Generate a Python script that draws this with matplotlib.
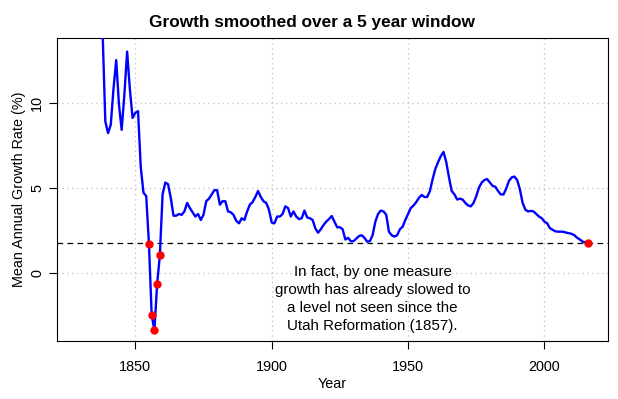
import matplotlib
matplotlib.use('Agg')
import matplotlib.pyplot as plt

plt.rcParams['font.family'] = ['Liberation Sans', 'DejaVu Sans']

# 5 year smoothed growth rate (%) by year
years = list(range(1837, 2017))
growth = [
    16.0, 14.2, 8.9, 8.2, 8.7, 10.8, 12.5, 9.9, 8.4, 10.5,   # 1837-1846
    13.0, 10.8, 9.1, 9.4, 9.5, 6.2, 4.7, 4.5, 1.69, -2.49,    # 1847-1856
    -3.39, -0.68, 1.02, 4.6, 5.3, 5.2, 4.4, 3.35, 3.35, 3.45,  # 1857-1866
    3.4, 3.6, 4.1, 3.8, 3.55, 3.3, 3.45, 3.1, 3.4, 4.2,       # 1867-1876
    4.35, 4.6, 4.85, 4.85, 4.0, 4.2, 4.2, 3.6, 3.55, 3.4,     # 1877-1886
    3.05, 2.9, 3.2, 3.1, 3.6, 4.0, 4.15, 4.45, 4.8, 4.45,     # 1887-1896
    4.2, 4.1, 3.7, 2.95, 2.9, 3.3, 3.3, 3.45, 3.9, 3.8,       # 1897-1906
    3.3, 3.6, 3.3, 3.15, 3.2, 3.65, 3.25, 3.2, 3.1, 2.6,      # 1907-1916
    2.35, 2.55, 2.8, 3.0, 3.15, 3.33, 3.0, 2.67, 2.67, 2.55,  # 1917-1926
    1.95, 2.05, 1.85, 1.85, 2.0, 2.15, 2.2, 2.05, 1.82, 1.85, # 1927-1936
    2.2, 3.0, 3.45, 3.65, 3.6, 3.4, 2.4, 2.2, 2.12, 2.2,      # 1937-1946
    2.55, 2.7, 3.1, 3.45, 3.8, 3.95, 4.15, 4.4, 4.57, 4.45,   # 1947-1956
    4.45, 4.8, 5.5, 6.1, 6.5, 6.85, 7.1, 6.5, 5.6, 4.8,       # 1957-1966
    4.6, 4.3, 4.35, 4.3, 4.1, 3.95, 3.9, 4.1, 4.5, 5.0,       # 1967-1976
    5.3, 5.45, 5.5, 5.3, 5.1, 5.05, 4.8, 4.6, 4.6, 4.95,      # 1977-1986
    5.4, 5.6, 5.65, 5.45, 4.9, 4.1, 3.7, 3.6, 3.63, 3.6,      # 1987-1996
    3.45, 3.3, 3.2, 3.0, 2.9, 2.62, 2.52, 2.43, 2.41, 2.41,   # 1997-2006
    2.4, 2.35, 2.32, 2.28, 2.2, 2.05, 1.95, 1.82, 1.78, 1.73, # 2007-2016
]

# highlighted years
dot_years = [1855, 1856, 1857, 1858, 1859, 2016]
dot_vals = [1.69, -2.49, -3.39, -0.68, 1.02, 1.73]
current = 1.73

note = ("In fact, by one measure\ngrowth has already slowed to\n"
        "a level not seen since the\nUtah Reformation (1857).")

fig = plt.figure(figsize=(6.18, 3.99), dpi=100)
ax = fig.add_axes([57.3 / 618, 1 - 341 / 399, (608 - 57.3) / 618, (341 - 38) / 399])

ax.set_xlim(1821.4, 2023.3)
ax.set_ylim(-4.02, 13.8)
ax.set_xticks([1850, 1900, 1950, 2000])
ax.set_yticks([0, 5, 10])

ax.grid(True, color='#c8c8c8', linestyle=(0, (1, 2.5)), linewidth=1.0)
ax.set_axisbelow(True)

ax.plot(years, growth, color='blue', lw=1.7, zorder=3)
ax.axhline(current, color='black', lw=0.9, linestyle=(0, (4.5, 3.5)), zorder=2)
ax.plot(dot_years, dot_vals, 'o', color='red', ms=5, zorder=4, clip_on=False)

ax.text(1937, -1.56, note, ha='center', va='center', fontsize=10.9, linespacing=1.36)

for s in ax.spines.values():
    s.set_linewidth(0.8)
ax.tick_params(length=5.5, width=0.8, labelsize=10.4)
ax.tick_params(axis='x', pad=8)
ax.tick_params(axis='y', pad=4)
for lab in ax.get_yticklabels():
    lab.set_rotation(90)
    lab.set_va('center')

ax.set_xlabel('Year', fontsize=10.4, labelpad=2.5)
ax.set_ylabel('Mean Annual Growth Rate (%)', fontsize=10.4, labelpad=3)
fig.text(312 / 618, 1 - 26.7 / 399, 'Growth smoothed over a 5 year window',
         ha='center', va='baseline', fontsize=12.4, fontweight='bold')

fig.savefig('out.png', dpi=100)
